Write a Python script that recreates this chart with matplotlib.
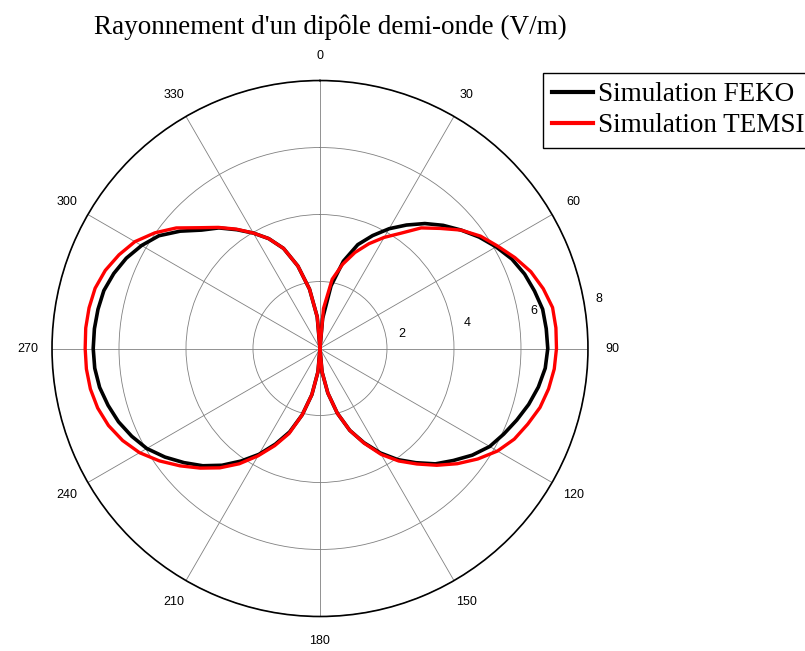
import numpy as np
import matplotlib
matplotlib.use("Agg")
import matplotlib.pyplot as plt

# angles in degrees (0 = north, clockwise), every 5 degrees
angles = list(range(0, 365, 5))

# FEKO field (V/m)
feko = [0.0, 0.9, 1.9, 2.7, 3.3, 3.72, 4.13, 4.5, 4.87, 5.2, 5.5, 5.8, 6.07, 6.32, 6.5, 6.63, 6.75, 6.78,
        6.8, 6.75, 6.62, 6.45, 6.25, 6.05, 5.85, 5.55, 5.2, 4.87, 4.45, 4.05, 3.6, 3.1, 2.6, 2.0, 1.35, 0.7,
        0.0, 0.7, 1.4, 2.05, 2.65, 3.15, 3.65, 4.1, 4.55, 4.95, 5.3, 5.65, 5.97, 6.2, 6.4, 6.55, 6.68, 6.75,
        6.77, 6.76, 6.73, 6.68, 6.55, 6.38, 6.15, 5.87, 5.45, 5.0, 4.7, 4.33, 3.98, 3.62, 3.18, 2.55, 1.8, 0.95,
        0.0]

# TEMSI field (V/m)
temsi = [0.0, 1.2, 2.1, 2.6, 3.05, 3.45, 3.83, 4.2, 4.7, 5.07, 5.5, 5.85, 6.12, 6.42, 6.7, 6.9, 7.05, 7.07,
         7.06, 7.02, 6.93, 6.8, 6.6, 6.4, 6.12, 5.75, 5.35, 4.93, 4.5, 4.1, 3.65, 3.12, 2.6, 2.0, 1.35, 0.7,
         0.0, 0.7, 1.4, 2.05, 2.7, 3.2, 3.7, 4.2, 4.65, 5.05, 5.45, 5.85, 6.22, 6.5, 6.72, 6.87, 6.96, 7.0,
         7.01, 7.02, 7.0, 6.95, 6.82, 6.62, 6.38, 6.02, 5.6, 5.1, 4.72, 4.35, 3.98, 3.62, 3.18, 2.55, 1.8, 0.95,
         0.0]

r_ticks = [2, 4, 6, 8]
theta_ticks = [0, 30, 60, 90, 120, 150, 180, 210, 240, 270, 300, 330]

fig = plt.figure(figsize=(8.05, 6.51), dpi=100)
ax = fig.add_axes([0.0646, 0.053, 0.6658, 0.8233], projection='polar')
ax.set_theta_zero_location('N')
ax.set_theta_direction(-1)

th = np.deg2rad(angles)
l1, = ax.plot(th, feko, color='black', linewidth=2.6, label='Simulation FEKO')
l2, = ax.plot(th, temsi, color='red', linewidth=2.4, label='Simulation TEMSI')

ax.set_ylim(0, 8)
ax.set_yticks(r_ticks)
ax.set_yticklabels([])
ax.set_xticks(np.deg2rad(theta_ticks))
ax.set_xticklabels([str(t) for t in theta_ticks], fontsize=9, family='Liberation Sans')
ax.tick_params(axis='x', pad=7)
ax.grid(True, color='#808080', linewidth=0.6, linestyle='-')
ax.spines['polar'].set_color('black')
ax.spines['polar'].set_linewidth(1.2)

# radial labels near the 80 degree spoke
for r in r_ticks:
    ax.text(np.deg2rad(80), r + 0.47, str(r), fontsize=9, family='Liberation Sans',
            ha='center', va='center', clip_on=False)

fig.text(0.41, 0.958, "Rayonnement d'un dipôle demi-onde (V/m)", family='Liberation Serif',
         fontsize=19.5, ha='center', va='center')

leg = fig.legend(handles=[l1, l2], loc='upper left', bbox_to_anchor=(543 / 805, 1 - 73 / 651),
                 prop={'family': 'Liberation Serif', 'size': 19.5}, frameon=True, fancybox=False,
                 edgecolor='black', framealpha=1, borderaxespad=0, borderpad=0.35,
                 handlelength=1.5, handletextpad=0.18, labelspacing=0.22)
leg.get_frame().set_linewidth(1.0)
for h in leg.legend_handles:
    h.set_linewidth(3)

fig.savefig('out.png', dpi=100)
